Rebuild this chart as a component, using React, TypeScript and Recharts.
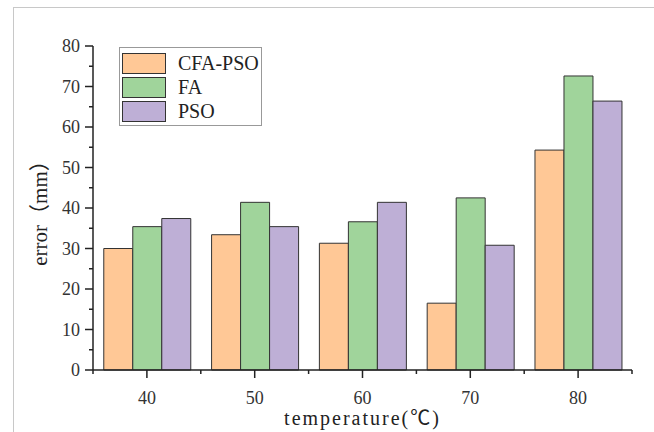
import React from 'react';
import { BarChart, Bar, XAxis, YAxis, Legend } from 'recharts';

const temperatures = ['40', '50', '60', '70', '80'];
const cfaPso = [30.0, 33.4, 31.3, 16.5, 54.3];
const fa = [35.4, 41.4, 36.6, 42.5, 72.6];
const pso = [37.4, 35.4, 41.4, 30.8, 66.4];
const yTicks = [0, 5, 10, 15, 20, 25, 30, 35, 40, 45, 50, 55, 60, 65, 70, 75, 80];

const data = temperatures.map((t, i) => ({
  name: t,
  'CFA-PSO': cfaPso[i],
  FA: fa[i],
  PSO: pso[i],
}));

const W = 654;
const H = 432;
const PLOT_LEFT = 93;
const PLOT_RIGHT = 632;
const PLOT_TOP = 46;
const PLOT_BOTTOM = 370;
const BAND = (PLOT_RIGHT - PLOT_LEFT) / temperatures.length;
const AXIS = '#222';
const FONT = '"Liberation Serif", "Noto Sans CJK SC", serif';

const YTick = (props: any) => {
  const { x, y, payload } = props;
  const major = payload.value % 10 === 0;
  const axisX = x + 12;
  return (
    <g>
      <line x1={axisX - (major ? 8 : 4)} x2={axisX} y1={y} y2={y} stroke={AXIS} strokeWidth={1.5} />
      {major && (
        <text x={x - 1} y={y + 6} textAnchor="end" fontSize={18} fontFamily={FONT} fill="#333">
          {payload.value}
        </text>
      )}
    </g>
  );
};

const XTick = (props: any) => {
  const { x, y, payload, index } = props;
  const axisY = y - 12;
  const last = index === temperatures.length - 1;
  return (
    <g>
      <line x1={x} x2={x} y1={axisY} y2={axisY + 8} stroke={AXIS} strokeWidth={1.5} />
      <line x1={x - BAND / 2} x2={x - BAND / 2} y1={axisY} y2={axisY + 4} stroke={AXIS} strokeWidth={1.5} />
      {last && (
        <line x1={x + BAND / 2} x2={x + BAND / 2} y1={axisY} y2={axisY + 4} stroke={AXIS} strokeWidth={1.5} />
      )}
      <text x={x} y={y + 22} textAnchor="middle" fontSize={18} fontFamily={FONT} fill="#333">
        {payload.value}
      </text>
    </g>
  );
};

const LegendBox = (props: any) => {
  const { payload } = props;
  return (
    <div
      style={{
        border: '1px solid #999',
        width: 139,
        padding: '3px 0 2px 2px',
        background: '#fff',
        textAlign: 'left',
      }}
    >
      {(payload || []).map((p: any) => (
        <div key={p.value} style={{ display: 'flex', alignItems: 'center', height: 24 }}>
          <div
            style={{
              width: 42,
              height: 19,
              background: p.color,
              border: '1px solid #333',
            }}
          />
          <span
            style={{
              marginLeft: 12,
              fontFamily: FONT,
              fontSize: 20,
              color: '#222',
              lineHeight: '24px',
            }}
          >
            {p.value}
          </span>
        </div>
      ))}
    </div>
  );
};

export default function App() {
  return (
    <div style={{ position: 'absolute', left: 0, top: 0, width: W, height: H, overflow: 'hidden', background: '#fff' }}>
      <div
        style={{
          position: 'absolute',
          left: 13,
          top: 7,
          width: W,
          height: H,
          borderTop: '1px solid #c8c8c8',
          borderLeft: '1px solid #c8c8c8',
        }}
      />
      <div style={{ position: 'absolute', left: 0, top: 0 }}>
        <BarChart
          width={W}
          height={H}
          data={data}
          margin={{ top: PLOT_TOP, right: W - PLOT_RIGHT, left: 0, bottom: 0 }}
          barCategoryGap="10%"
          barGap={0}
        >
          <XAxis
            dataKey="name"
            height={H - PLOT_BOTTOM}
            axisLine={{ stroke: AXIS, strokeWidth: 1.5 }}
            tickLine={false}
            tickSize={8}
            tickMargin={4}
            tick={<XTick />}
            interval={0}
            label={{
              value: 'temperature(℃)',
              position: 'insideBottom',
              offset: 7,
              fontSize: 20,
              fontFamily: FONT,
              fill: '#222',
              letterSpacing: 2,
            }}
          />
          <YAxis
            width={PLOT_LEFT}
            domain={[0, 80]}
            ticks={yTicks}
            interval={0}
            axisLine={{ stroke: AXIS, strokeWidth: 1.5 }}
            tickLine={false}
            tickSize={8}
            tickMargin={4}
            tick={<YTick />}
            label={{
              value: 'error（mm）',
              angle: -90,
              position: 'insideLeft',
              offset: 40,
              fontSize: 21,
              fontFamily: FONT,
              fill: '#222',
              style: { textAnchor: 'middle' },
            }}
          />
          <Legend
            verticalAlign="middle"
            align="center"
            layout="vertical"
            wrapperStyle={{ position: 'absolute', left: 119, top: 47, width: 'auto', margin: 0 }}
            content={<LegendBox />}
          />
          <Bar dataKey="CFA-PSO" fill="#FFC896" stroke="#333" strokeWidth={1} isAnimationActive={false} />
          <Bar dataKey="FA" fill="#A0D49B" stroke="#333" strokeWidth={1} isAnimationActive={false} />
          <Bar dataKey="PSO" fill="#BEAFD6" stroke="#333" strokeWidth={1} isAnimationActive={false} />
        </BarChart>
      </div>
    </div>
  );
}
